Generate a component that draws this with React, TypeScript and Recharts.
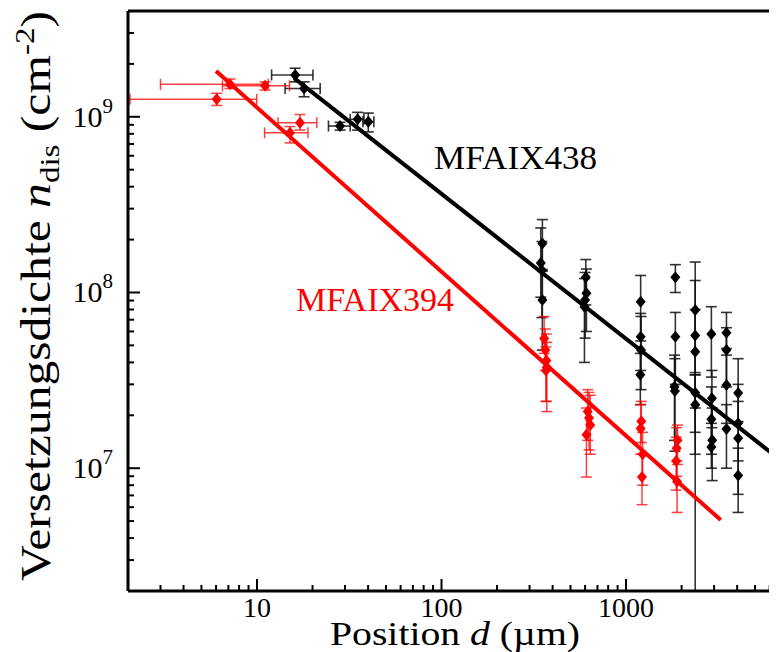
import React from "react";
import { ScatterChart, Scatter, XAxis, YAxis, ErrorBar } from "recharts";

// MFAIX438 (black): position in µm, density in cm^-2
const blackX = [16.1, 18.0, 28.2, 35.1, 40.1, 352, 345, 350, 352, 605, 610, 600, 595, 1200, 1200, 1205, 1195, 1850, 1850, 1830, 1840, 2370, 2370, 2370, 2370, 2370, 2900, 2920, 2900, 2930, 2900, 3500, 3500, 3500, 3500, 4050, 4050, 4050, 4050];
const blackY = [1.73e9, 1.45e9, 8.86e8, 9.67e8, 9.38e8, 1.9e8, 1.47e8, 1.34e8, 9.06e7, 1.22e8, 9.9e7, 9.06e7, 8.3e7, 8.86e7, 5.6e7, 4.7e7, 3.4e7, 1.22e8, 5.6e7, 2.91e7, 2.75e7, 7.95e7, 5.7e7, 4.6e7, 2.69e7, 2.3e7, 5.8e7, 2.5e7, 1.9e7, 1.44e7, 1.32e7, 5.9e7, 4.7e7, 2.97e7, 1.67e7, 2.68e7, 1.8e7, 1.48e7, 9.1e6];
const blackYLo = [1.58e9, 1.3e9, 8.4e8, 8.4e8, 8.2e8, 1.35e8, 9.4e7, 7.2e7, 4.7e7, 8.5e7, 6e7, 5.5e7, 4.0e7, 5.3e7, 3.6e7, 2.8e7, 2.3e7, 1.0e8, 3.0e7, 1.44e7, 1.25e7, 3.4e7, 2.0e6, 2.2e7, 1.2e7, 1.6e7, 3.3e7, 1.7e7, 1.2e7, 8.5e6, 1.0e7, 4.8e7, 2.9e7, 1.8e7, 1.0e7, 1.84e7, 1.1e7, 7.1e6, 5.6e6];
const blackYHi = [1.89e9, 1.58e9, 9.3e8, 1.06e9, 1.05e9, 2.6e8, 2.33e8, 1.95e8, 1.32e8, 1.54e8, 1.36e8, 1.3e8, 1.2e8, 1.25e8, 7.6e7, 7.3e7, 4.5e7, 1.44e8, 7.7e7, 4.4e7, 4.2e7, 1.49e8, 1.17e8, 8e7, 3.5e7, 3.4e7, 8.3e7, 3.6e7, 2.9e7, 2.2e7, 1.8e7, 7.7e7, 6.3e7, 4.4e7, 2.3e7, 4.2e7, 3.0e7, 2.4e7, 1.3e7];
// x error only for the first points
const blackXLo = [12.0, 14.2, 24.4, 32.0, 37.5];
const blackXHi = [20.1, 22.0, 32.0, 38.0, 43.0];

// MFAIX394 (red)
const redX = [6.05, 7.14, 11.06, 15.1, 17.1, 360, 365, 370, 372, 368, 620, 630, 640, 610, 1210, 1200, 1230, 1220, 1900, 1880, 1870, 1890];
const redY = [1.257e9, 1.53e9, 1.5e9, 8.1e8, 9.25e8, 5.48e7, 4.7e7, 4.1e7, 3.75e7, 3.6e7, 2.1e7, 1.93e7, 1.76e7, 1.55e7, 1.85e7, 1.68e7, 1.2e7, 8.9e6, 1.44e7, 1.3e7, 1.1e7, 8.4e6];
const redYLo = [1.16e9, 1.45e9, 1.42e9, 7.1e8, 8.4e8, 4.5e7, 3.6e7, 2.4e7, 2.1e7, 2.4e7, 1.44e7, 1.27e7, 1.2e7, 8.9e6, 1.4e7, 1.2e7, 8e6, 6.2e6, 1.05e7, 9e6, 7.5e6, 5.6e6];
const redYHi = [1.36e9, 1.64e9, 1.58e9, 8.8e8, 1.03e9, 7.3e7, 6.2e7, 5.8e7, 5.2e7, 4.9e7, 2.8e7, 2.7e7, 2.6e7, 2.2e7, 2.4e7, 2.3e7, 1.6e7, 1.2e7, 1.76e7, 1.7e7, 1.5e7, 1.1e7];
const redXLo = [2.05, 3.0, 6.5, 11.0, 13.0];
const redXHi = [9.97, 11.5, 15.0, 18.9, 21.1];

// power-law fits (end points)
const blackFitX = [15.9, 6040];
const blackFitY = [1.66e9, 1.236e7];
const redFitX = [6.0, 3260];
const redFitY = [1.82e9, 5.07e6];

const xTicks = [2, 3, 4, 5, 6, 7, 8, 9, 10, 20, 30, 40, 50, 60, 70, 80, 90, 100, 200, 300, 400, 500, 600, 700, 800, 900, 1000, 2000, 3000, 4000, 5000, 6000, 7000];
const yTicks = [2e6, 3e6, 4e6, 5e6, 6e6, 7e6, 8e6, 9e6, 1e7, 2e7, 3e7, 4e7, 5e7, 6e7, 7e7, 8e7, 9e7, 1e8, 2e8, 3e8, 4e8, 5e8, 6e8, 7e8, 8e8, 9e8, 1e9, 2e9, 3e9, 4e9];

const FONT = "Liberation Serif";

const build = (xs: number[], ys: number[], lo: number[], hi: number[], xlo: number[], xhi: number[]) =>
  xs.map((x, i) => ({
    x,
    y: ys[i],
    ey: [ys[i] - lo[i], hi[i] - ys[i]],
    ex: i < xlo.length ? [x - xlo[i], xhi[i] - x] : undefined,
  }));

const blackData = build(blackX, blackY, blackYLo, blackYHi, blackXLo, blackXHi);
const redData = build(redX, redY, redYLo, redYHi, redXLo, redXHi);
const blackFit = blackFitX.map((x, i) => ({ x, y: blackFitY[i] }));
const redFit = redFitX.map((x, i) => ({ x, y: redFitY[i] }));

const isDecade = (v: number) => Math.abs(Math.log10(v) - Math.round(Math.log10(v))) < 1e-6;

const diamond = (color: string) => (props: any) => {
  const { cx, cy } = props;
  if (cx == null || cy == null) return <g />;
  return <path d={`M${cx},${cy - 6}L${cx + 5},${cy}L${cx},${cy + 6}L${cx - 5},${cy}Z`} fill={color} />;
};

const noShape = () => <g />;

function BottomTick(props: any) {
  const { x, y, payload } = props;
  const major = isDecade(payload.value);
  return (
    <g>
      <line x1={x} y1={y} x2={x} y2={y - (major ? 12 : 6)} stroke="#000" strokeWidth={2} />
      {major && (
        <text x={x} y={y + 26} textAnchor="middle" fontSize={28} fontFamily={FONT} fill="#000">
          {payload.value}
        </text>
      )}
    </g>
  );
}

function TopTick(props: any) {
  const { x, y, payload } = props;
  const major = isDecade(payload.value);
  return <line x1={x} y1={y} x2={x} y2={y + (major ? 12 : 6)} stroke="#000" strokeWidth={2} />;
}

function LeftTick(props: any) {
  const { x, y, payload } = props;
  const major = isDecade(payload.value);
  const exp = Math.round(Math.log10(payload.value));
  return (
    <g>
      <line x1={x} y1={y} x2={x + (major ? 12 : 6)} y2={y} stroke="#000" strokeWidth={2} />
      {major && (
        <text x={x - 15} y={y + 10} textAnchor="end" fontSize={30} fontFamily={FONT} fill="#000">
          10
          <tspan dy={-14} fontSize={21}>
            {exp}
          </tspan>
        </text>
      )}
    </g>
  );
}

function RightTick(props: any) {
  const { x, y, payload } = props;
  const major = isDecade(payload.value);
  return <line x1={x} y1={y} x2={x - (major ? 12 : 6)} y2={y} stroke="#000" strokeWidth={2} />;
}

const axisLine = { stroke: "#000", strokeWidth: 3 };

export default function App() {
  return (
    <div style={{ position: "relative", width: 769, height: 644, overflow: "hidden" }}>
      <ScatterChart width={800} height={644} margin={{ top: 0, right: 16, bottom: 11, left: 60 }}>
        <XAxis
          xAxisId="b"
          dataKey="x"
          type="number"
          scale="log"
          domain={[2, 7000]}
          allowDataOverflow
          ticks={xTicks}
          interval={0}
          height={50}
          tickSize={0}
          tickMargin={0}
          tickLine={false}
          axisLine={axisLine}
          tick={(p: any) => <BottomTick {...p} />}
        />
        <XAxis
          xAxisId="t"
          orientation="top"
          type="number"
          scale="log"
          domain={[2, 7000]}
          allowDataOverflow
          ticks={xTicks}
          interval={0}
          height={3}
          tickSize={0}
          tickMargin={0}
          tickLine={false}
          axisLine={axisLine}
          tick={(p: any) => <TopTick {...p} />}
        />
        <YAxis
          yAxisId="l"
          dataKey="y"
          type="number"
          scale="log"
          domain={[2e6, 4e9]}
          allowDataOverflow
          ticks={yTicks}
          interval={0}
          width={60}
          tickSize={0}
          tickMargin={0}
          tickLine={false}
          axisLine={axisLine}
          tick={(p: any) => <LeftTick {...p} />}
        />
        <YAxis
          yAxisId="r"
          orientation="right"
          type="number"
          scale="log"
          domain={[2e6, 4e9]}
          allowDataOverflow
          ticks={yTicks}
          interval={0}
          width={10}
          tickSize={0}
          tickMargin={0}
          tickLine={false}
          axisLine={axisLine}
          tick={(p: any) => <RightTick {...p} />}
        />
        <Scatter xAxisId="b" yAxisId="l" data={blackData} fill="#000" shape={diamond("#000")} isAnimationActive={false}>
          <ErrorBar dataKey="ey" direction="y" width={5.5} stroke="#111" strokeWidth={1.6} strokeOpacity={0.85} isAnimationActive={false} />
          <ErrorBar dataKey="ex" direction="x" width={5.5} stroke="#111" strokeWidth={1.6} strokeOpacity={0.85} isAnimationActive={false} />
        </Scatter>
        <Scatter xAxisId="b" yAxisId="l" data={redData} fill="#ff0000" shape={diamond("#ff0000")} isAnimationActive={false}>
          <ErrorBar dataKey="ey" direction="y" width={5.5} stroke="#ff0000" strokeWidth={1.5} strokeOpacity={0.75} isAnimationActive={false} />
          <ErrorBar dataKey="ex" direction="x" width={5.5} stroke="#ff0000" strokeWidth={1.5} strokeOpacity={0.75} isAnimationActive={false} />
        </Scatter>
        <Scatter xAxisId="b" yAxisId="l" data={blackFit} fill="#000" line={{ stroke: "#000", strokeWidth: 4 }} shape={noShape} isAnimationActive={false} />
        <Scatter xAxisId="b" yAxisId="l" data={redFit} fill="#ff0000" line={{ stroke: "#ff0000", strokeWidth: 4 }} shape={noShape} isAnimationActive={false} />
      </ScatterChart>
      <svg width={769} height={644} style={{ position: "absolute", left: 0, top: 0, pointerEvents: "none" }}>
        <text x={426} y={161} fontSize={33} fontFamily={FONT} fill="#000" textLength={163} lengthAdjust="spacingAndGlyphs">
          MFAIX438
        </text>
        <text x={288} y={303} fontSize={33} fontFamily={FONT} fill="#ff0000" textLength={158} lengthAdjust="spacingAndGlyphs">
          MFAIX394
        </text>
        <text x={447} y={637} textAnchor="middle" fontSize={33} fontFamily={FONT} fill="#000" textLength={250} lengthAdjust="spacingAndGlyphs">
          Position <tspan fontStyle="italic">d</tspan> (µm)
        </text>
        <text transform="rotate(-90)" x={-288} y={42} textAnchor="middle" fontSize={42} fontFamily={FONT} fill="#000" textLength={570} lengthAdjust="spacingAndGlyphs">
          Versetzungsdichte <tspan fontStyle="italic">n</tspan>
          <tspan dy={9} fontSize={28}>dis</tspan>
          <tspan dy={-9}> (cm</tspan>
          <tspan dy={-16} fontSize={28}>-2</tspan>
          <tspan dy={16}>)</tspan>
        </text>
      </svg>
    </div>
  );
}
